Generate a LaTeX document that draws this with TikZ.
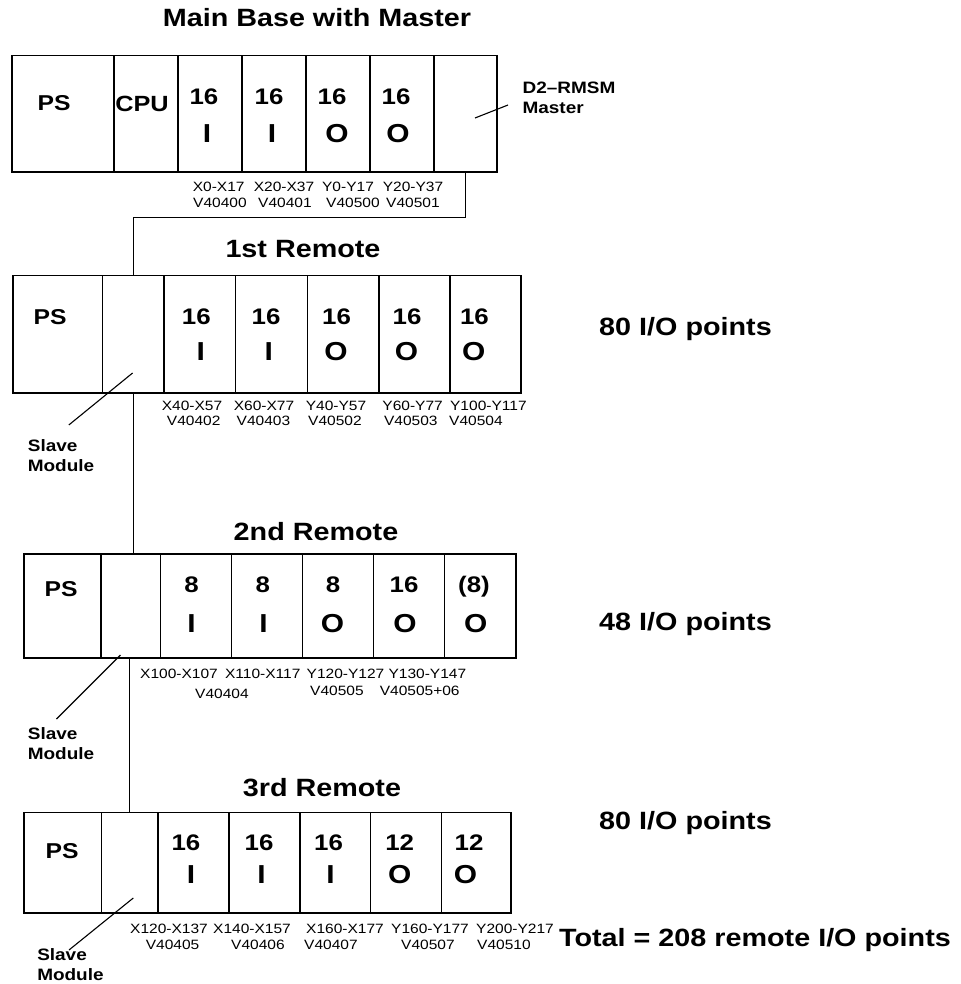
\documentclass[tikz,border=0pt]{standalone}
\usepackage{fontspec}
\setmainfont{Liberation Sans}[FakeStretch=1.15]
\begin{document}
\begin{tikzpicture}[x=1pt,y=-1pt,
  line width=1.1pt,
  slot/.style 2 args={draw, line width=1.1pt, inner sep=0pt, outer sep=0pt, minimum width=#1pt, minimum height=#2pt},
  title/.style={font=\fontsize{25}{30}\selectfont\bfseries, anchor=base, inner sep=0pt},
  num/.style={font=\fontsize{22.5}{26}\selectfont\bfseries, anchor=base, inner sep=0pt},
  iolet/.style={font=\fontsize{26}{30}\selectfont\bfseries, anchor=base, inner sep=0pt},
  ps/.style={font=\fontsize{21.5}{25}\selectfont\bfseries, anchor=base, inner sep=0pt},
  addr/.style={font=\fontsize{13.5}{15}\selectfont, anchor=base, inner sep=0pt},
  note/.style={font=\fontsize{16.5}{20}\selectfont\bfseries, align=left, anchor=north west, inner sep=0pt},
  total/.style={font=\fontsize{25}{30}\selectfont\bfseries, anchor=base, inner sep=0pt},
  wire/.style={draw, line width=1.1pt}
]
\useasboundingbox (0,0) rectangle (960,984);

% ---------------- Main base ----------------
\node[title] (tmain) at (317,27) {Main Base with Master};
\node[slot={102}{116.5}] (m1) at (63,113.75) {};
\node[slot={64}{116.5}] (m2) at (146,113.75) {};
\node[slot={64}{116.5}] (m3) at (210,113.75) {};
\node[slot={64}{116.5}] (m4) at (274,113.75) {};
\node[slot={64}{116.5}] (m5) at (338,113.75) {};
\node[slot={64}{116.5}] (m6) at (402,113.75) {};
\node[slot={63}{116.5}] (m7) at (465.5,113.75) {};
\node[ps] (m1t) at (54,111) {PS};
\node[ps, font=\fontsize{22}{26}\selectfont\bfseries] (m2t) at (142,112) {CPU};
\node[num] (m3n) at (204,105) {16};
\node[num] (m4n) at (269,105) {16};
\node[num] (m5n) at (332,105) {16};
\node[num] (m6n) at (396,105) {16};
\node[iolet] (m3l) at (207,143) {I};
\node[iolet] (m4l) at (272,143) {I};
\node[iolet] (m5l) at (337,143) {O};
\node[iolet] (m6l) at (398,143) {O};
\node[addr] (m3a) at (218.7,191.5) {X0-X17};
\node[addr] (m4a) at (284,191.5) {X20-X37};
\node[addr] (m5a) at (348,191.5) {Y0-Y17};
\node[addr] (m6a) at (413,191.5) {Y20-Y37};
\node[addr] (m3v) at (220,208) {V40400};
\node[addr] (m4v) at (285,208) {V40401};
\node[addr] (m5v) at (353,208) {V40500};
\node[addr] (m6v) at (413,208) {V40501};
\node[note] (mast) at (522,81.7) {D2–RMSM\\Master};
\coordinate (mtip) at (475,118);
\coordinate (mend) at (508,105);
\draw (mtip) -- (mend);

% ---------------- 1st remote ----------------
\node[title] (t1) at (303,258) {1st Remote};
\node[slot={89.7}{117.5}] (a1) at (57.85,334.25) {};
\node[slot={61.3}{117.5}] (a2) at (133.35,334.25) {};
\node[slot={71.7}{117.5}] (a3) at (199.85,334.25) {};
\node[slot={71.8}{117.5}] (a4) at (271.6,334.25) {};
\node[slot={71.5}{117.5}] (a5) at (343.25,334.25) {};
\node[slot={71}{117.5}] (a6) at (414.5,334.25) {};
\node[slot={71}{117.5}] (a7) at (485.5,334.25) {};
\node[ps] (a1t) at (50,324) {PS};
\node[num] (a3n) at (196.3,324) {16};
\node[num] (a4n) at (266,324) {16};
\node[num] (a5n) at (336.6,324) {16};
\node[num] (a6n) at (407,324) {16};
\node[num] (a7n) at (474.4,324) {16};
\node[iolet] (a3l) at (200.8,360) {I};
\node[iolet] (a4l) at (268.7,360) {I};
\node[iolet] (a5l) at (336,360) {O};
\node[iolet] (a6l) at (406.5,360) {O};
\node[iolet] (a7l) at (473.7,360) {O};
\node[addr] (a3a) at (192,410) {X40-X57};
\node[addr] (a4a) at (264,410) {X60-X77};
\node[addr] (a5a) at (336,410) {Y40-Y57};
\node[addr] (a6a) at (412.6,410) {Y60-Y77};
\node[addr] (a7a) at (488.4,410) {Y100-Y117};
\node[addr] (a3v) at (193.7,425) {V40402};
\node[addr] (a4v) at (263.5,425) {V40403};
\node[addr] (a5v) at (335,425) {V40502};
\node[addr] (a6v) at (410.8,425) {V40503};
\node[addr] (a7v) at (476,425) {V40504};
\node[note] (sl1) at (27.3,439.3) {Slave\\Module};
\coordinate (s1tip) at (132.6,373);
\coordinate (s1end) at (68.8,425);
\draw (s1tip) -- (s1end);
\node[total] (p1) at (685.5,335) {80 I/O points};

% ---------------- 2nd remote ----------------
\node[title] (t2) at (316,540) {2nd Remote};
\node[slot={77}{104}] (b1) at (62.5,606) {};
\node[slot={59.5}{104}] (b2) at (130.75,606) {};
\node[slot={71.2}{104}] (b3) at (196.1,606) {};
\node[slot={71}{104}] (b4) at (267.2,606) {};
\node[slot={71}{104}] (b5) at (338.2,606) {};
\node[slot={70.9}{104}] (b6) at (409.15,606) {};
\node[slot={71.4}{104}] (b7) at (480.3,606) {};
\node[ps] (b1t) at (61,596) {PS};
\node[num] (b3n) at (191.6,592) {8};
\node[num] (b4n) at (262.8,592) {8};
\node[num] (b5n) at (333,592) {8};
\node[num] (b6n) at (404,592) {16};
\node[num] (b7n) at (474,592) {(8)};
\node[iolet] (b3l) at (191.6,632) {I};
\node[iolet] (b4l) at (263.6,632) {I};
\node[iolet] (b5l) at (332.6,632) {O};
\node[iolet] (b6l) at (405,632) {O};
\node[iolet] (b7l) at (475.7,632) {O};
\node[addr] (b3a) at (179,678) {X100-X107};
\node[addr] (b4a) at (262.8,678) {X110-X117};
\node[addr] (b5a) at (345.5,678) {Y120-Y127};
\node[addr] (b6a) at (427.4,678) {Y130-Y147};
\node[addr] (b3v) at (222,698) {V40404};
\node[addr] (b5v) at (337,695) {V40505};
\node[addr] (b6v) at (419.7,695) {V40505+06};
\node[note] (sl2) at (27.3,726.7) {Slave\\Module};
\coordinate (s2tip) at (120.5,655);
\coordinate (s2end) at (56.5,719);
\draw (s2tip) -- (s2end);
\node[total] (p2) at (685.5,630) {48 I/O points};

% ---------------- 3rd remote ----------------
\node[title] (t3) at (322,796) {3rd Remote};
\node[slot={77.7}{100.5}] (c1) at (62.85,862.75) {};
\node[slot={56.3}{100.5}] (c2) at (129.85,862.75) {};
\node[slot={71}{100.5}] (c3) at (193.5,862.75) {};
\node[slot={71}{100.5}] (c4) at (264.5,862.75) {};
\node[slot={70.6}{100.5}] (c5) at (335.3,862.75) {};
\node[slot={71}{100.5}] (c6) at (406.1,862.75) {};
\node[slot={69.4}{100.5}] (c7) at (476.3,862.75) {};
\node[ps] (c1t) at (62,858) {PS};
\node[num] (c3n) at (186,850) {16};
\node[num] (c4n) at (259,850) {16};
\node[num] (c5n) at (328.5,850) {16};
\node[num] (c6n) at (399.7,850) {12};
\node[num] (c7n) at (469,850) {12};
\node[iolet] (c3l) at (191,883) {I};
\node[iolet] (c4l) at (261.6,883) {I};
\node[iolet] (c5l) at (330.4,883) {I};
\node[iolet] (c6l) at (399.7,883) {O};
\node[iolet] (c7l) at (465.6,883) {O};
\node[addr] (c3a) at (169,933) {X120-X137};
\node[addr] (c4a) at (252,933) {X140-X157};
\node[addr] (c5a) at (345,933) {X160-X177};
\node[addr] (c6a) at (430,933) {Y160-Y177};
\node[addr] (c7a) at (515,933) {Y200-Y217};
\node[addr] (c3v) at (172.6,949) {V40405};
\node[addr] (c4v) at (258,949) {V40406};
\node[addr] (c5v) at (331,949) {V40407};
\node[addr] (c6v) at (428,949) {V40507};
\node[addr] (c7v) at (504,949) {V40510};
\node[note] (sl3) at (36.7,947.5) {Slave\\Module};
\coordinate (s3tip) at (133.3,898);
\coordinate (s3end) at (69,950);
\draw (s3tip) -- (s3end);
\node[total] (p3) at (685.5,829) {80 I/O points};

\node[total] (ptot) at (755,946) {Total = 208 remote I/O points};

% ---------------- connectors ----------------
\draw[wire] (m7.south) -- ++(0,45.5) -| (a2.north);
\draw[wire] (a2.south) -- (a2.south |- b2.north);
\draw[wire] (c2.north |- b2.south) -- (c2.north);
\end{tikzpicture}
\end{document}
